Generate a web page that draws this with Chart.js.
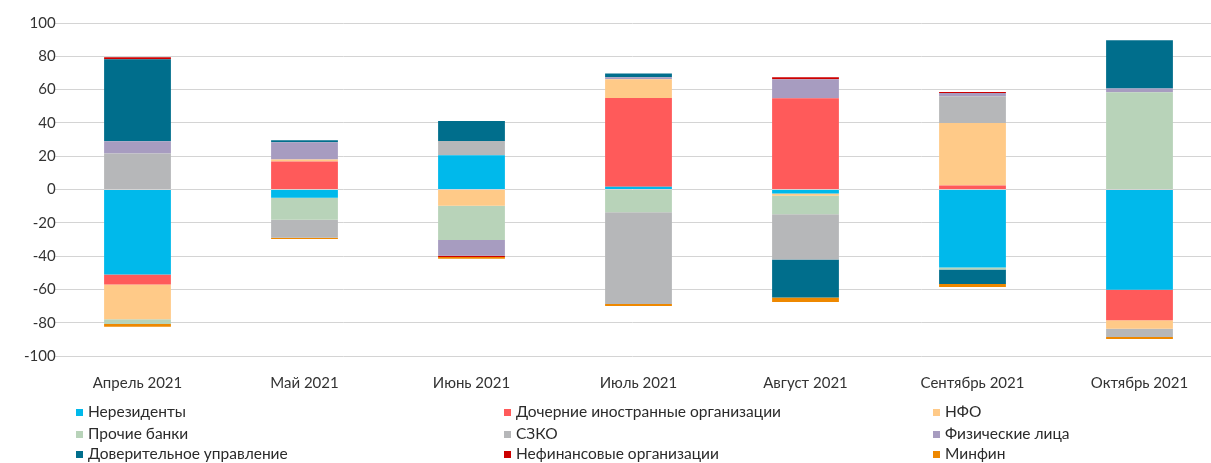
<!DOCTYPE html>
<html><head><meta charset="utf-8">
<script src="https://cdn.jsdelivr.net/npm/chart.js@4.4.0/dist/chart.umd.min.js"></script>
<style>
html,body{margin:0;padding:0;background:#fff;}
#wrap{position:relative;width:1211px;height:463px;overflow:hidden;}
#legend{position:absolute;left:0;top:0;width:1211px;height:463px;pointer-events:none;font-family:Lato,"Open Sans",Arial,sans-serif;font-size:15.5px;color:#2b2b2b;}
.li{position:absolute;white-space:nowrap;line-height:20px;height:20px;}
.sw{position:absolute;left:0;top:8px;width:7px;height:7px;}
.tx{position:absolute;left:12px;top:0;}
</style></head>
<body>
<div id="wrap"><canvas id="c" width="1211" height="463"></canvas><div id="legend"></div></div>
<script>
const categories = ["Апрель 2021","Май 2021","Июнь 2021","Июль 2021","Август 2021","Сентябрь 2021","Октябрь 2021"];
const seriesNames = ["Нерезиденты","Дочерние иностранные организации","НФО","Прочие банки","СЗКО","Физические лица","Доверительное управление","Нефинансовые организации","Минфин"];
const nonresidents = [-51.0, -5.0, 20.6, 1.6, -2.4, -46.8, -60.2];
const foreignSubs = [-6.0, 16.8, 0, 53.4, 54.8, 2.4, -18.4];
const nfo = [-21.0, 1.2, -9.8, 11.2, -1.4, 37.6, -5.0];
const otherBanks = [-2.8, -13.2, -20.6, -13.6, -11.0, -1.2, 58.4];
const szko = [21.6, -10.8, 8.6, -55.2, -27.2, 16.0, -5.0];
const individuals = [7.4, 10.4, -9.4, 1.2, 11.4, 2.0, 2.2];
const trustMgmt = [49.2, 1.2, 12.0, 2.2, -22.8, -8.8, 29.0];
const nonFinancial = [1.3, 0, -0.8, 0, 1.2, 0.6, 0];
const minfin = [-1.6, -0.8, -1.0, -1.2, -2.8, -1.8, -1.2];
const yTicks = [100, 80, 60, 40, 20, 0, -20, -40, -60, -80, -100];

const seriesValues = [nonresidents, foreignSubs, nfo, otherBanks, szko, individuals, trustMgmt, nonFinancial, minfin];
const colors = ["#00B9EB","#FF5A5A","#FFCA88","#B8D3B9","#B6B7B9","#A79CC0","#006E8C","#CC0000","#EE8800"];

const datasets = seriesNames.map((n,i)=>({
  label:n, data:seriesValues[i], backgroundColor:colors[i],
  borderWidth:0, categoryPercentage:1, barPercentage:0.40
}));

const tickFont = {family:"Lato, 'Open Sans', Arial, sans-serif", size:15};

// Plot area as in the source image: it runs slightly past the right edge of the picture
const plotLeft = 54, plotWidth = 1169, plotTop = 23, plotBottom = 356;
const plotAreaPlugin = {
  id:'plotArea',
  afterLayout(chart){
    const x = chart.scales.x, y = chart.scales.y, ca = chart.chartArea;
    ca.left = plotLeft; ca.right = chart.width; ca.width = ca.right - ca.left;
    ca.top = plotTop; ca.bottom = plotBottom; ca.height = plotBottom - plotTop;
    x._startPixel = plotLeft; x._endPixel = plotLeft + plotWidth; x._length = plotWidth;
    x.left = plotLeft; x.right = plotLeft + plotWidth; x.width = plotWidth;
    y._startPixel = plotTop; y._endPixel = plotBottom; y._length = plotBottom - plotTop;
    y.top = plotTop; y.bottom = plotBottom; y.height = plotBottom - plotTop;
  }
};

const chart = new Chart(document.getElementById('c'), {
  type:'bar',
  data:{labels:categories, datasets},
  plugins:[plotAreaPlugin],
  options:{
    responsive:false, animation:false,
    layout:{padding:{top:7,left:6,right:0,bottom:53}},
    plugins:{legend:{display:false}, tooltip:{enabled:false}},
    scales:{
      x:{stacked:true, grid:{display:false, drawTicks:false}, border:{display:false},
         ticks:{padding:18, color:"#333", font:tickFont, maxRotation:0, autoSkip:false}},
      y:{stacked:true, min:-100, max:100,
         afterBuildTicks:(s)=>{s.ticks = yTicks.map(v=>({value:v}));},
         grid:{color:"#D4D4D4", lineWidth:1, drawTicks:false}, border:{display:false},
         ticks:{padding:18, color:"#333", font:tickFont}}
    }
  }
});

// HTML legend built from the chart's datasets (3 columns x 3 rows)
const legendEl = document.getElementById('legend');
const colX = [76, 504, 933];
const rowY = [401, 423, 443];
chart.data.datasets.forEach((ds,i)=>{
  const d = document.createElement('div');
  d.className='li';
  d.style.left = colX[i%3]+'px';
  d.style.top = rowY[Math.floor(i/3)]+'px';
  const sw = document.createElement('span'); sw.className='sw'; sw.style.background=ds.backgroundColor;
  const tx = document.createElement('span'); tx.className='tx'; tx.textContent = ds.label;
  d.appendChild(sw); d.appendChild(tx);
  legendEl.appendChild(d);
});
</script>
</body></html>
